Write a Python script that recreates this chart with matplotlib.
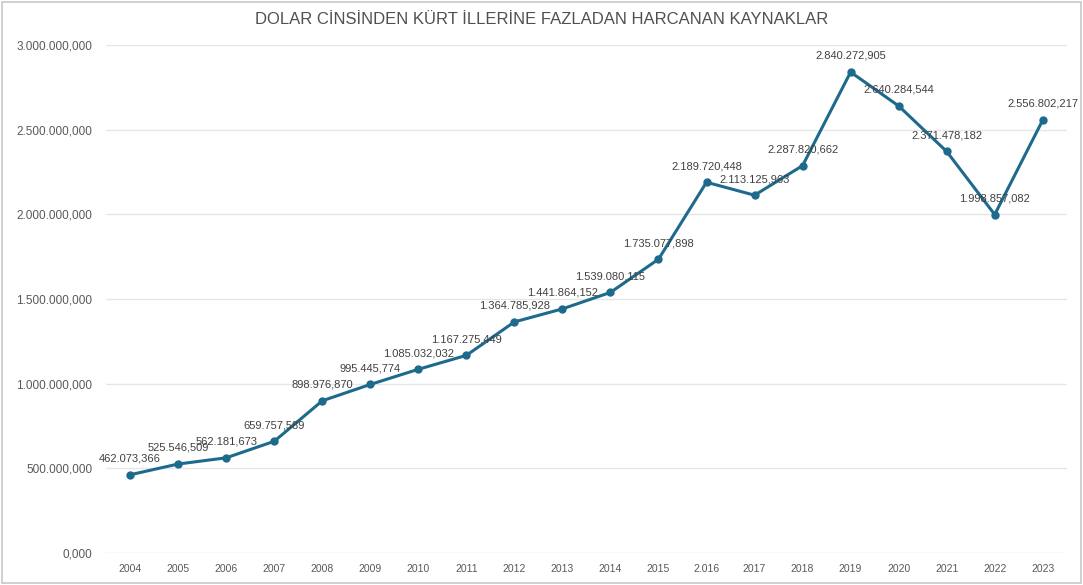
import matplotlib
matplotlib.use("Agg")
import matplotlib.pyplot as plt
from matplotlib.patches import Rectangle

years = ['2004', '2005', '2006', '2007', '2008', '2009', '2010', '2011', '2012', '2013',
         '2014', '2015', '2.016', '2017', '2018', '2019', '2020', '2021', '2022', '2023']
values = [462073366, 525546509, 562181673, 659757589, 898976870, 995445774, 1085032032,
          1167275449, 1364785928, 1441864152, 1539080115, 1735077898, 2189720448,
          2113125963, 2287820662, 2840272905, 2640284544, 2371478182, 1998857082, 2556802217]
value_labels = ['462.073,366', '525.546,509', '562.181,673', '659.757,589', '898.976,870',
                '995.445,774', '1.085.032,032', '1.167.275,449', '1.364.785,928',
                '1.441.864,152', '1.539.080,115', '1.735.077,898', '2.189.720,448',
                '2.113.125,963', '2.287.820,662', '2.840.272,905', '2.640.284,544',
                '2.371.478,182', '1.998.857,082', '2.556.802,217']
y_ticks = [0, 500e6, 1000e6, 1500e6, 2000e6, 2500e6, 3000e6]
y_tick_labels = ['0,000', '500.000,000', '1.000.000,000', '1.500.000,000',
                 '2.000.000,000', '2.500.000,000', '3.000.000,000']

plt.rcParams['font.family'] = ['Liberation Sans', 'DejaVu Sans']

fig = plt.figure(figsize=(10.83, 5.85), dpi=100)
ax = fig.add_axes([0.098, 0.0547, 0.887, 0.8683])

# cadre gris autour du graphique
fig.patches.append(Rectangle((0.002, 0.004), 0.996, 0.992, transform=fig.transFigure,
                             fill=False, edgecolor='#c8c8c8', linewidth=1.2))

line_color = '#1d6a8c'
x = list(range(len(years)))
ax.plot(x, values, color=line_color, linewidth=2.2, marker='o', markersize=5)

for xi, v, lab in zip(x, values, value_labels):
    ax.annotate(lab, (xi, v), xytext=(0, 8), textcoords='offset points',
                ha='center', va='bottom', fontsize=8, color='#404040')

ax.set_xlim(-0.5, len(years) - 0.5)
ax.set_ylim(0, 3e9)
ax.set_xticks(x)
ax.set_xticklabels(years, fontsize=7.5, color='#595959')
ax.set_yticks(y_ticks)
ax.set_yticklabels(y_tick_labels, fontsize=8.5, color='#595959')
ax.tick_params(axis='y', length=0, pad=10)
ax.tick_params(axis='x', length=0, pad=8)
ax.grid(axis='y', color='#e6e6e6', linewidth=1)
ax.set_axisbelow(True)
for s in ax.spines.values():
    s.set_visible(False)

fig.text(0.5, 0.967, 'DOLAR CİNSİNDEN KÜRT İLLERİNE FAZLADAN HARCANAN KAYNAKLAR',
         ha='center', va='center', fontsize=12, color='#505050')

fig.savefig('out.png', dpi=100)
